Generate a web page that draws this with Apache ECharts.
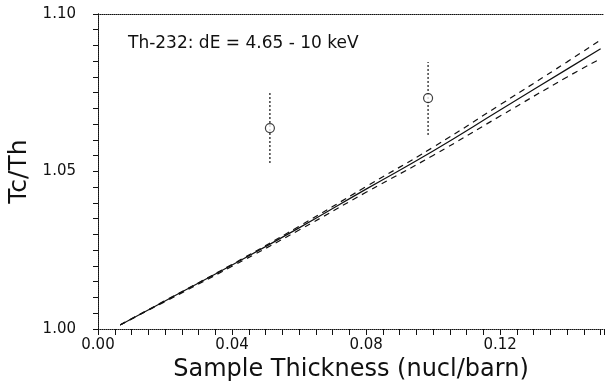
<!DOCTYPE html>
<html>
<head>
<meta charset="utf-8">
<script src="https://cdn.jsdelivr.net/npm/echarts@6/dist/echarts.min.js"></script>
<style>
  html, body { margin: 0; padding: 0; background: #fff; }
  #chart { width: 615px; height: 384px; }
</style>
</head>
<body>
<div id="chart"></div>
<script>
// thickness (nucl/barn) for the model curves
const thickness = [0.0066, 0.02, 0.04, 0.06, 0.08, 0.10, 0.12, 0.14, 0.150];
const ratioCentral = [1.0013, 1.0089, 1.0203, 1.0321, 1.0444, 1.0565, 1.0695, 1.0825, 1.0890];
const ratioUpper = [1.0013, 1.0090, 1.0205, 1.0326, 1.0452, 1.0577, 1.0712, 1.0848, 1.0918];
const ratioLower = [1.0013, 1.0087, 1.0199, 1.0314, 1.0434, 1.0551, 1.0676, 1.0800, 1.0858];

// measured points with error bars
const measX = [0.0513, 0.0985];
const measY = [1.0638, 1.0733];
const measLo = [1.0527, 1.0616];
const measHi = [1.0749, 1.0848];

const xTicks = [0, 0.04, 0.08, 0.12];
const label = "Th-232: dE = 4.65 - 10 keV";

const font = "DejaVu Sans";
const ink = "#111";

const chart = echarts.init(document.getElementById("chart"));

const pairs = (xs, ys) => xs.map((x, i) => [x, ys[i]]);

chart.setOption({
  backgroundColor: "#fff",
  animation: false,
  grid: { left: 98, right: 11, top: 14, bottom: 55, outerBoundsMode: "none", containLabel: false },
  graphic: [
    {
      type: "text",
      left: 128,
      top: 35,
      style: { text: label, font: `17px '${font}'`, fill: ink },
    },
  ],
  xAxis: [
    {
      type: "value",
      min: 0,
      max: 0.151,
      interval: 0.04,
      name: "Sample Thickness (nucl/barn)",
      nameLocation: "middle",
      nameGap: 20,
      nameTextStyle: { fontFamily: font, fontSize: 24, color: ink },
      axisLine: { lineStyle: { color: ink, type: "dotted", width: 1 } },
      axisTick: { show: true, length: 6, lineStyle: { color: ink } },
      minorTick: { show: true, splitNumber: 8, length: 6, lineStyle: { color: ink } },
      axisLabel: {
        fontFamily: font,
        fontSize: 15,
        color: ink,
        margin: 9,
        showMaxLabel: false,
        formatter: (v) => (xTicks.some((t) => Math.abs(t - v) < 1e-9) ? v.toFixed(2) : ""),
      },
      splitLine: { show: false },
    },
    {
      type: "value",
      position: "top",
      min: 0,
      max: 0.151,
      axisLine: { show: true, lineStyle: { color: ink, type: "dotted", width: 1 } },
      axisTick: { show: false },
      axisLabel: { show: false },
      splitLine: { show: false },
    },
  ],
  yAxis: [
    {
      type: "value",
      min: 1.0,
      max: 1.1,
      interval: 0.05,
      name: "Tc/Th",
      nameLocation: "middle",
      nameGap: 62,
      nameTextStyle: { fontFamily: font, fontSize: 25, color: ink },
      axisLine: { show: true, lineStyle: { color: ink, type: "dotted", width: 1 } },
      axisTick: { show: true, length: 5, lineStyle: { color: ink } },
      minorTick: { show: true, splitNumber: 10, length: 5, lineStyle: { color: ink } },
      axisLabel: {
        fontFamily: font,
        fontSize: 15,
        color: ink,
        margin: 22,
        formatter: (v) => v.toFixed(2),
      },
      splitLine: { show: false },
    },
    {
      type: "value",
      position: "right",
      min: 1.0,
      max: 1.1,
      axisLine: { show: true, lineStyle: { color: ink, type: "dotted", width: 1 } },
      axisTick: { show: false },
      axisLabel: { show: false },
      splitLine: { show: false },
    },
  ],
  series: [
    {
      name: "central",
      type: "line",
      data: pairs(thickness, ratioCentral),
      smooth: true,
      symbol: "none",
      lineStyle: { color: ink, width: 1.2 },
    },
    {
      name: "upper",
      type: "line",
      data: pairs(thickness, ratioUpper),
      smooth: true,
      symbol: "none",
      lineStyle: { color: ink, width: 1.2, type: [6, 5] },
    },
    {
      name: "lower",
      type: "line",
      data: pairs(thickness, ratioLower),
      smooth: true,
      symbol: "none",
      lineStyle: { color: ink, width: 1.2, type: [6, 5] },
    },
    {
      name: "error",
      type: "custom",
      data: measX.map((x, i) => [x, measLo[i], measHi[i]]),
      renderItem: (params, api) => {
        const lo = api.coord([api.value(0), api.value(1)]);
        const hi = api.coord([api.value(0), api.value(2)]);
        return {
          type: "line",
          shape: { x1: lo[0], y1: lo[1], x2: hi[0], y2: hi[1] },
          style: { stroke: ink, lineWidth: 1.2, lineDash: [2, 2] },
        };
      },
      z: 3,
    },
    {
      name: "measured",
      type: "scatter",
      data: pairs(measX, measY),
      symbol: "circle",
      symbolSize: 9,
      itemStyle: { color: "#fff", borderColor: ink, borderWidth: 1.2 },
      z: 4,
    },
  ],
});
</script>
</body>
</html>
